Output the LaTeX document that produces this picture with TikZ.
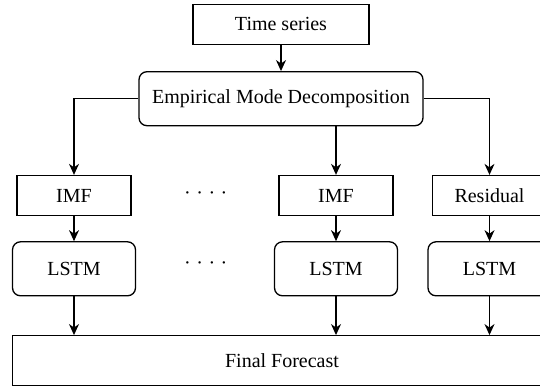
\documentclass[tikz,border=0pt]{standalone}
\usepackage{fontspec}
\setmainfont{Liberation Serif}
\usetikzlibrary{arrows.meta}
\tikzset{
  box/.style={draw=black, line width=1.3pt, inner sep=0pt, align=center,
    font=\fontsize{20}{24}\selectfont},
  rbox/.style={box, rounded corners=8pt},
  arr/.style={line width=1.2pt, -{Stealth[length=11pt, width=10pt, inset=3.5pt]}},
  dots/.style={inner sep=0pt, font=\fontsize{20}{24}\selectfont}
}
\begin{document}
\begin{tikzpicture}[x=1pt, y=-1pt]
  \useasboundingbox (0,0) rectangle (540,389);
  \fill[white] (0,0) rectangle (540,389);
  \clip (0,0) rectangle (540,389);

  % input and decomposition
  \node[box, minimum width=176pt, minimum height=40pt] (ts) at (281,24.2) {Time series};
  \node[rbox, minimum width=284pt, minimum height=54pt] (emd) at (281,98.7) {Empirical Mode Decomposition};

  % components
  \node[box, minimum width=114pt, minimum height=40pt] (imf1) at (74,195.5) {IMF};
  \node[box, minimum width=114pt, minimum height=40pt] (imf2) at (336,195.5) {IMF};
  \node[box, minimum width=114pt, minimum height=40pt] (res) at (489.5,195.5) {Residual};

  % per-component models
  \node[rbox, minimum width=123pt, minimum height=54pt] (lstm1) at (74,268.8) {LSTM};
  \node[rbox, minimum width=123pt, minimum height=54pt] (lstm2) at (336,268.8) {LSTM};
  \node[rbox, minimum width=123pt, minimum height=54pt] (lstm3) at (489.5,268.8) {LSTM};

  % ellipses between the first and the last IMF branches
  \node[dots] (d1) at (205.8,196) {·\kern5.5pt·\kern5.5pt·\kern5.5pt·};
  \node[dots] (d2) at (205.8,265.7) {·\kern5.5pt·\kern5.5pt·\kern5.5pt·};

  % aggregation
  \node[box, minimum width=539pt, minimum height=50pt] (final) at (282,360.7) {Final Forecast};

  % connectors
  \draw[arr] (ts.south) -- (emd.north);
  \draw[arr] (emd.west) -| (imf1.north);
  \draw[arr] (emd.south -| imf2.north) -- (imf2.north);
  \draw[arr] (emd.east) -| (res.north);

  \draw[arr] (imf1.south) -- (lstm1.north);
  \draw[arr] (imf2.south) -- (lstm2.north);
  \draw[arr] (res.south) -- (lstm3.north);

  \draw[arr] (lstm1.south) -- (lstm1.south |- final.north);
  \draw[arr] (lstm2.south) -- (lstm2.south |- final.north);
  \draw[arr] (lstm3.south) -- (lstm3.south |- final.north);
\end{tikzpicture}
\end{document}
